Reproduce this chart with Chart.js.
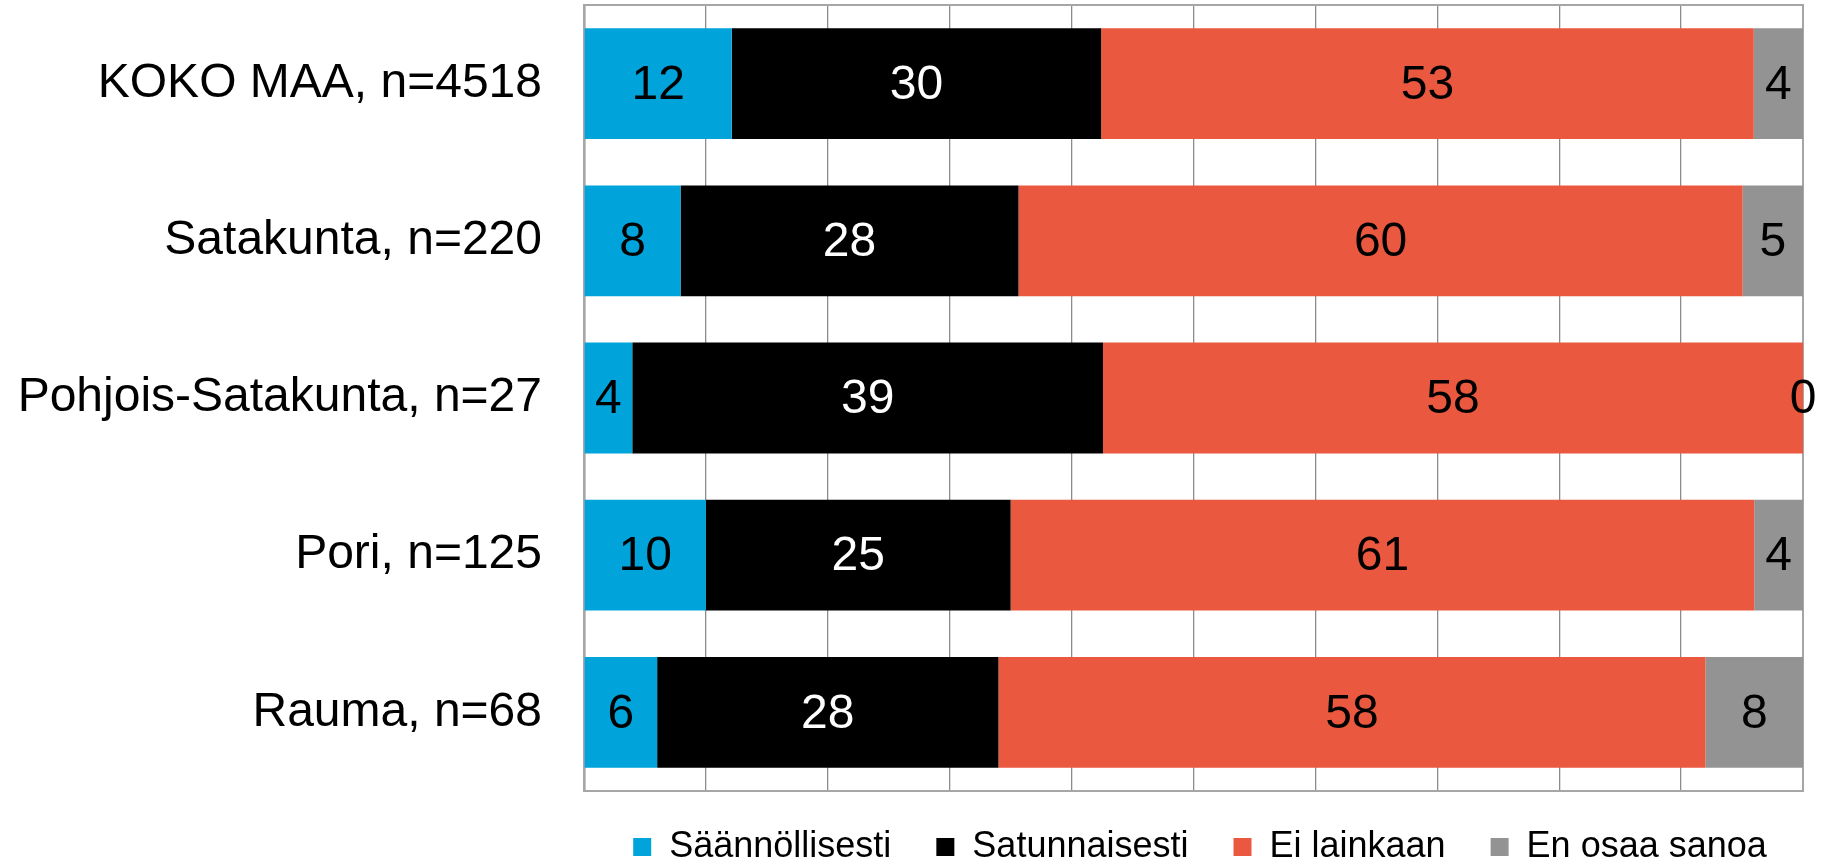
<!DOCTYPE html>
<html>
<head>
<meta charset="utf-8">
<script src="https://cdn.jsdelivr.net/npm/chart.js@4/dist/chart.umd.min.js"></script>
<style>
    html, body { margin: 0; padding: 0; background: #fff; }
    #wrap { width: 1839px; height: 865px; }
</style>
</head>
<body>
<div id="wrap"><canvas id="stackedBarChart" width="1839" height="865"></canvas></div>
<script>
const categories = ['KOKO MAA, n=4518', 'Satakunta, n=220', 'Pohjois-Satakunta, n=27', 'Pori, n=125', 'Rauma, n=68'];
const seriesNames = ['Säännöllisesti', 'Satunnaisesti', 'Ei lainkaan', 'En osaa sanoa'];
const saannollisesti = [12, 8, 4, 10, 6];
const satunnaisesti = [30, 28, 39, 25, 28];
const eiLainkaan = [53, 60, 58, 61, 58];
const enOsaaSanoa = [4, 5, 0, 4, 8];
const xTicks = [0, 10, 20, 30, 40, 50, 60, 70, 80, 90, 100];

document.addEventListener('DOMContentLoaded', function () {
    const series = [saannollisesti, satunnaisesti, eiLainkaan, enOsaaSanoa];
    const colors = ['#00A3DA', '#000000', '#E9583F', '#939393'];
    const labelColors = ['#000', '#fff', '#000', '#000'];
    const font = "'Liberation Sans', Arial, sans-serif";

    // 100 % pinottu: jokainen palkki skaalataan koko leveyteen
    const totals = categories.map((c, i) => series.reduce((s, arr) => s + arr[i], 0));

    const datasets = series.map((values, index) => ({
        label: seriesNames[index],
        data: values.map((v, i) => v / totals[i] * 100),
        raw: values,
        backgroundColor: colors[index],
        borderWidth: 0,
        barPercentage: 0.705,
        categoryPercentage: 1
    }));

    const legendPadding = 45;

    const valueLabels = {
        id: 'valueLabels',
        afterDatasetsDraw(chart) {
            const ctx = chart.ctx;
            ctx.save();
            ctx.font = '48px ' + font;
            ctx.textAlign = 'center';
            ctx.textBaseline = 'middle';
            chart.data.datasets.forEach((ds, i) => {
                chart.getDatasetMeta(i).data.forEach((bar, j) => {
                    const p = bar.getProps(['x', 'y', 'base'], true);
                    ctx.fillStyle = labelColors[i];
                    ctx.fillText(String(ds.raw[j]), (p.x + p.base) / 2, p.y + 2);
                });
            });
            ctx.restore();
        }
    };

    const frame = {
        id: 'frame',
        beforeDatasetsDraw(chart) {
            const a = chart.chartArea;
            const ctx = chart.ctx;
            ctx.save();
            ctx.strokeStyle = '#a6a6a6';
            ctx.lineWidth = 2;
            ctx.strokeRect(a.left, a.top, a.right - a.left, a.bottom - a.top);
            ctx.restore();
        },
        afterUpdate(chart) {
            const lg = chart.legend;
            const cx = 1200;
            lg.top = 847 - legendPadding - 18;
            lg.bottom = 865;
            lg.right = 1839;
            lg.left = 2 * cx - lg.right;
            lg.adjustHitBoxes();
        }
    };

    const config = {
        type: 'bar',
        data: {
            labels: categories,
            datasets: datasets
        },
        options: {
            indexAxis: 'y',
            responsive: false,
            animation: false,
            devicePixelRatio: 1,
            layout: {
                padding: { top: 5, right: 36, bottom: 2, left: 0 }
            },
            plugins: {
                legend: {
                    position: 'bottom',
                    maxHeight: 72,
                    labels: {
                        boxWidth: 18,
                        boxHeight: 18,
                        padding: legendPadding,
                        color: '#000',
                        font: { family: font, size: 36 }
                    }
                },
                tooltip: { enabled: false }
            },
            scales: {
                x: {
                    stacked: true,
                    min: 0,
                    max: 100,
                    afterBuildTicks(scale) {
                        scale.ticks = xTicks.map(v => ({ value: v }));
                    },
                    ticks: { display: false },
                    grid: {
                        color: '#8c8c8c',
                        lineWidth: 1.3,
                        drawTicks: false
                    },
                    border: { display: true, color: '#a6a6a6', width: 2 }
                },
                y: {
                    stacked: true,
                    afterFit(scale) {
                        scale.width = 584;
                        scale.paddingTop = 0;
                        scale.paddingBottom = 0;
                    },
                    ticks: {
                        padding: 42,
                        color: '#000',
                        font: { family: font, size: 48 }
                    },
                    grid: { display: false, drawTicks: false },
                    border: { display: true, color: '#8c8c8c', width: 2.5 }
                }
            }
        },
        plugins: [frame, valueLabels]
    };

    const ctx = document.getElementById('stackedBarChart').getContext('2d');
    new Chart(ctx, config);
});
</script>
</body>
</html>
